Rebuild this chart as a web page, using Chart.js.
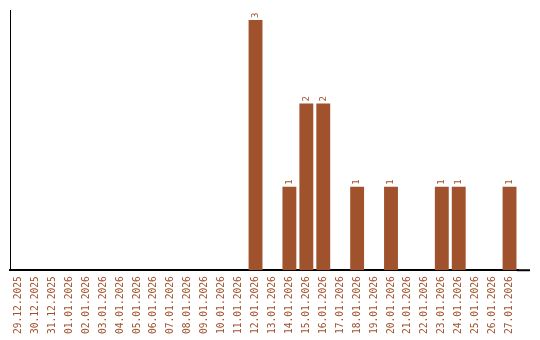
<!DOCTYPE html>
<html>
<head>
<meta charset="utf-8">
<script src="https://cdn.jsdelivr.net/npm/chart.js@4"></script>
<style>
  html, body { margin: 0; padding: 0; background: #fff; }
  #wrap { width: 540px; height: 340px; }
</style>
</head>
<body>
<div id="wrap"><canvas id="myChart"></canvas></div>
<script>
const labels = [
    '29.12.2025', '30.12.2025', '31.12.2025', '01.01.2026', '02.01.2026',
    '03.01.2026', '04.01.2026', '05.01.2026', '06.01.2026', '07.01.2026',
    '08.01.2026', '09.01.2026', '10.01.2026', '11.01.2026', '12.01.2026',
    '13.01.2026', '14.01.2026', '15.01.2026', '16.01.2026', '17.01.2026',
    '18.01.2026', '19.01.2026', '20.01.2026', '21.01.2026', '22.01.2026',
    '23.01.2026', '24.01.2026', '25.01.2026', '26.01.2026', '27.01.2026'
];
const counts = [
    0, 0, 0, 0, 0,
    0, 0, 0, 0, 0,
    0, 0, 0, 0, 3,
    0, 1, 2, 2, 0,
    1, 0, 1, 0, 0,
    1, 1, 0, 0, 1
];

const barColor = '#a0522d';

// value labels above the bars (rotated) + baseline running a bit past the last bar
const extras = {
    id: 'extras',
    afterDatasetsDraw(chart) {
        const ctx = chart.ctx;
        const area = chart.chartArea;
        const meta = chart.getDatasetMeta(0);
        ctx.save();
        ctx.strokeStyle = '#000';
        ctx.lineWidth = 2;
        ctx.beginPath();
        ctx.moveTo(area.right - 1, area.bottom);
        ctx.lineTo(area.right + 12, area.bottom);
        ctx.stroke();

        ctx.fillStyle = barColor;
        ctx.font = '9px "DejaVu Sans Mono"';
        ctx.textAlign = 'left';
        ctx.textBaseline = 'middle';
        meta.data.forEach(function(bar, i) {
            if (!counts[i]) return;
            ctx.save();
            ctx.translate(bar.x, bar.y - 2);
            ctx.rotate(-Math.PI / 2);
            ctx.fillText(String(counts[i]), 0, 0);
            ctx.restore();
        });
        ctx.restore();
    }
};

function createChart() {
    const ctx = document.getElementById('myChart').getContext('2d');
    new Chart(ctx, {
        type: 'bar',
        data: {
            labels: labels,
            datasets: [{
                data: counts,
                backgroundColor: barColor,
                borderWidth: 0,
                barPercentage: 0.82,
                categoryPercentage: 1
            }]
        },
        options: {
            responsive: true,
            maintainAspectRatio: false,
            animation: false,
            layout: { padding: { left: 10, right: 22, top: 10, bottom: 0 } },
            plugins: {
                legend: { display: false },
                tooltip: { enabled: false }
            },
            scales: {
                x: {
                    grid: { display: false, drawTicks: false },
                    border: { display: true, color: '#000', width: 2 },
                    ticks: {
                        color: barColor,
                        font: { family: '"DejaVu Sans Mono"', size: 9.6 },
                        minRotation: 90,
                        maxRotation: 90,
                        autoSkip: false,
                        padding: 6
                    }
                },
                y: {
                    beginAtZero: true,
                    min: 0,
                    max: 3.12,
                    grid: { display: false, drawTicks: false },
                    border: { display: true, color: '#000', width: 1 },
                    ticks: { display: false }
                }
            }
        },
        plugins: [extras]
    });
}

createChart();
</script>
</body>
</html>
